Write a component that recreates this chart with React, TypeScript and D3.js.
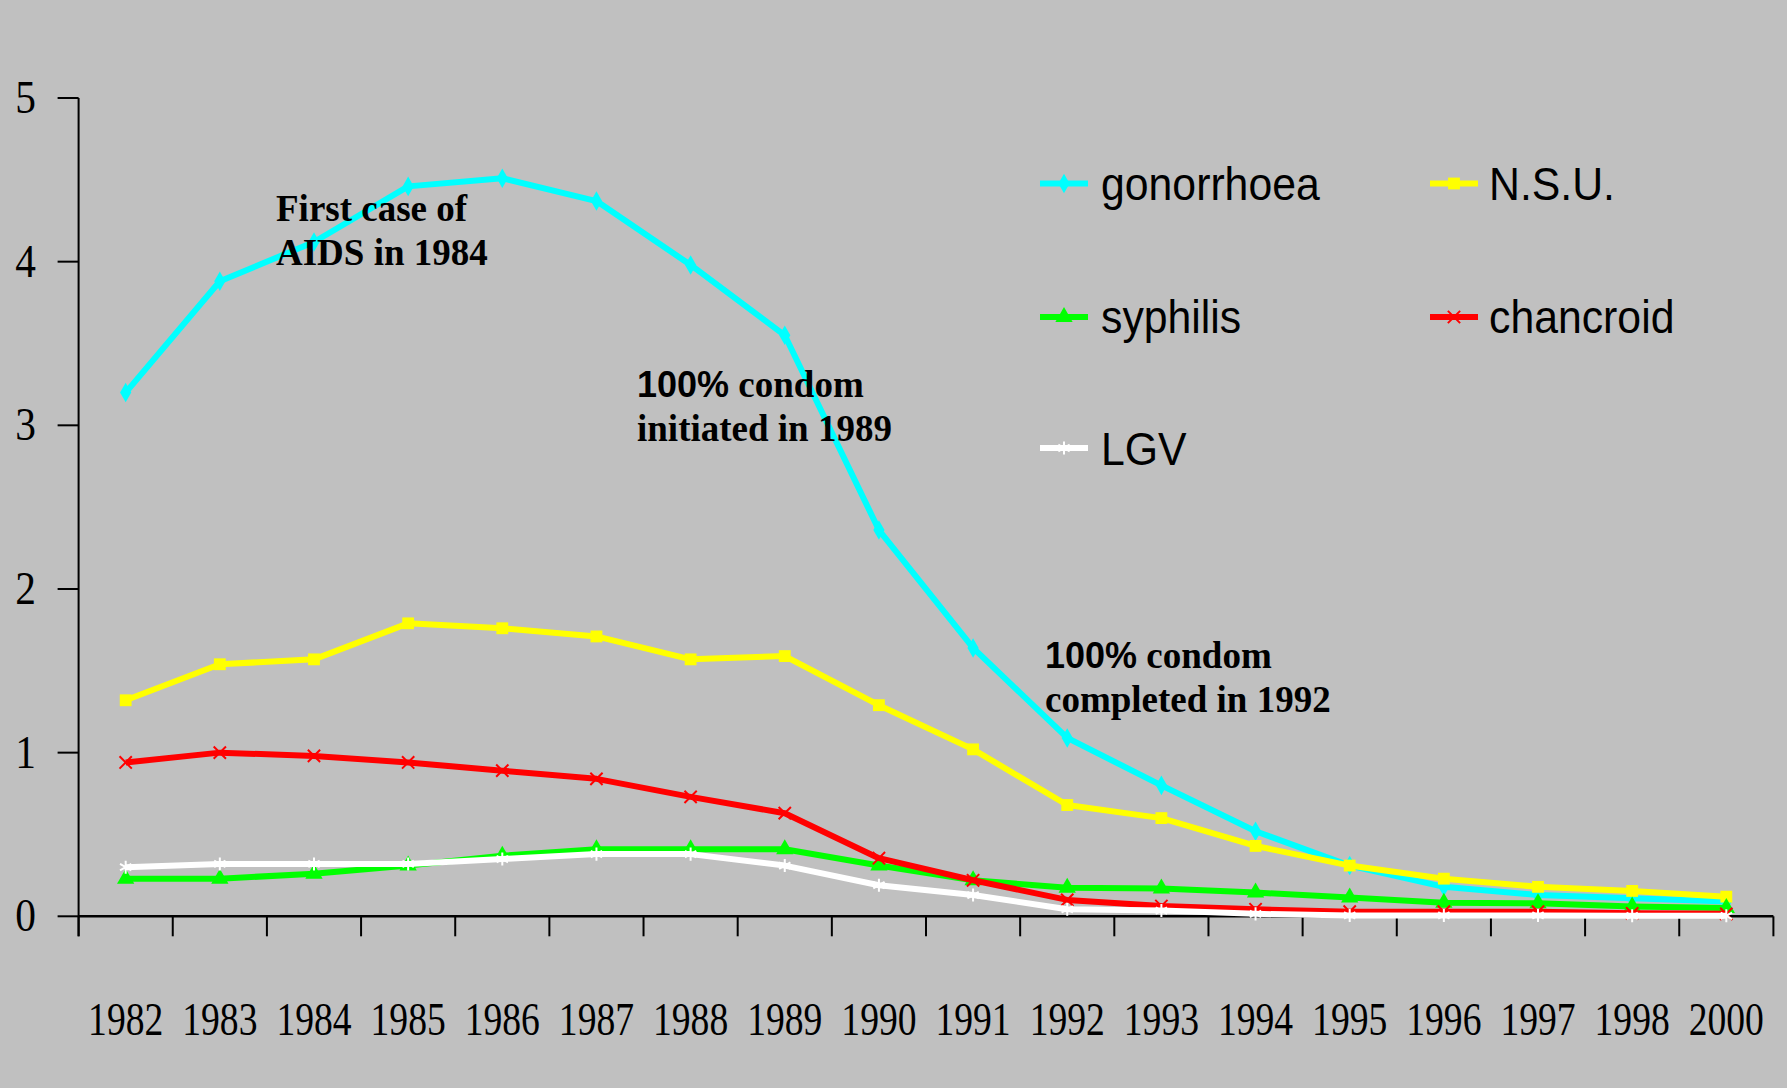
import React from "react";
import * as d3 from "d3";

const years = ["1982","1983","1984","1985","1986","1987","1988","1989","1990","1991","1992","1993","1994","1995","1996","1997","1998","2000"];
const gonorrhoea = [3.20,3.88,4.12,4.46,4.51,4.37,3.98,3.55,2.36,1.64,1.09,0.80,0.52,0.31,0.18,0.13,0.11,0.09];
const nsu = [1.32,1.54,1.57,1.79,1.76,1.71,1.57,1.59,1.29,1.02,0.68,0.60,0.43,0.31,0.23,0.18,0.155,0.12];
const syphilis = [0.23,0.23,0.26,0.31,0.37,0.41,0.41,0.41,0.31,0.22,0.175,0.17,0.145,0.115,0.083,0.079,0.06,0.05];
const chancroid = [0.94,1.00,0.98,0.94,0.89,0.84,0.73,0.63,0.355,0.22,0.10,0.063,0.043,0.028,0.028,0.028,0.018,0.015];
const lgv = [0.30,0.32,0.32,0.32,0.35,0.38,0.38,0.31,0.19,0.13,0.043,0.035,0.015,0.005,0.005,0.005,0.003,0.003];
const yTicks = [0,1,2,3,4,5];

const seriesNames = ["gonorrhoea","N.S.U.","syphilis","chancroid","LGV"];
const seriesColors = ["#00FFFF","#FFFF00","#00FF00","#FF0000","#FFFFFF"];
const seriesValues = [gonorrhoea, nsu, syphilis, chancroid, lgv];
const seriesSymbols = [d3.symbolDiamond, d3.symbolSquare, d3.symbolTriangle, d3.symbolX, d3.symbolAsterisk];
const symbolSizes = [110, 140, 130, 100, 120];
const symbolFilled = [true, true, true, false, false];

const W = 1787, H = 1088;
const left = 78.6, right = 1773.4, top = 98, bottom = 916.3;

export default function App() {
  const x = d3.scaleBand<string>().domain(years).range([left, right]).padding(0);
  const y = d3.scaleLinear().domain([0, 5]).range([bottom, top]);
  const cx = (yr: string) => (x(yr) as number) + x.bandwidth() / 2;
  const line = d3.line<number>().x((_, i) => cx(years[i])).y((v) => y(v));
  const tickXs = years.map((yr) => x(yr) as number).concat([right]);

  const legendPos = [
    { lx: 1040, ly: 183.5, tx: 1101, ty: 200 },
    { lx: 1430, ly: 183.5, tx: 1489, ty: 200 },
    { lx: 1040, ly: 317, tx: 1101, ty: 333 },
    { lx: 1430, ly: 317, tx: 1489, ty: 333 },
    { lx: 1040, ly: 448, tx: 1101, ty: 465 },
  ];

  const sym = (i: number) => d3.symbol().type(seriesSymbols[i]).size(symbolSizes[i])() as string;

  const serifBold = { fontFamily: "'Liberation Serif', 'Times New Roman', serif", fontWeight: 700, fontSize: 37 } as const;
  const sansBold = { fontFamily: "'Liberation Sans', Arial, sans-serif", fontWeight: 700 } as const;

  return (
    <div style={{ position: "absolute", left: 0, top: 0, width: W, height: H }}>
      <svg width={W} height={H} style={{ display: "block" }}>
        <rect x={0} y={0} width={W} height={H} fill="#C0C0C0" />
        {/* axes */}
        <line x1={left} x2={left} y1={top} y2={bottom + 20} stroke="#000" strokeWidth={2} />
        <line x1={left} x2={right} y1={bottom} y2={bottom} stroke="#000" strokeWidth={2.5} />
        {yTicks.map((t) => (
          <g key={t}>
            <line x1={left - 21} x2={left} y1={y(t)} y2={y(t)} stroke="#000" strokeWidth={2} />
            <text
              transform={`translate(36,${y(t) + 15}) scale(0.9,1)`}
              textAnchor="end"
              fontFamily="'Liberation Serif', 'Times New Roman', serif"
              fontSize={46}
              fill="#000"
            >
              {t}
            </text>
          </g>
        ))}
        {tickXs.map((tx, i) => (
          <line key={i} x1={tx} x2={tx} y1={bottom} y2={bottom + 20} stroke="#000" strokeWidth={2} />
        ))}
        {years.map((yr) => (
          <text
            key={yr}
            transform={`translate(${cx(yr)},1035) scale(0.8,1)`}
            textAnchor="middle"
            fontFamily="'Liberation Serif', 'Times New Roman', serif"
            fontSize={47}
            fill="#000"
          >
            {yr}
          </text>
        ))}
        {/* series */}
        {seriesValues.map((vals, si) => (
          <g key={si}>
            <path d={line(vals) as string} fill="none" stroke={seriesColors[si]} strokeWidth={6} strokeLinejoin="round" />
            {vals.map((v, i) => (
              <path
                key={i}
                d={sym(si)}
                transform={`translate(${cx(years[i])},${y(v)})`}
                fill={symbolFilled[si] ? seriesColors[si] : "none"}
                stroke={seriesColors[si]}
                strokeWidth={symbolFilled[si] ? 0 : 2}
              />
            ))}
          </g>
        ))}
        {/* legend */}
        {seriesNames.map((name, si) => {
          const p = legendPos[si];
          return (
            <g key={name}>
              <line x1={p.lx} x2={p.lx + 48} y1={p.ly} y2={p.ly} stroke={seriesColors[si]} strokeWidth={6} />
              <path
                d={sym(si)}
                transform={`translate(${p.lx + 24},${p.ly})`}
                fill={symbolFilled[si] ? seriesColors[si] : "none"}
                stroke={seriesColors[si]}
                strokeWidth={symbolFilled[si] ? 0 : 2}
              />
              <text
                transform={`translate(${p.tx},${p.ty}) scale(0.93,1)`}
                fontFamily="'Liberation Sans', Arial, sans-serif"
                fontSize={46}
                fill="#000"
              >
                {name}
              </text>
            </g>
          );
        })}
        {/* annotations */}
        <text x={276} y={221} style={serifBold} fill="#000">First case of</text>
        <text x={276} y={265} style={serifBold} fill="#000">AIDS in 1984</text>
        <text x={637} y={397} style={serifBold} fill="#000">
          <tspan style={sansBold} fontSize={36}>100%</tspan> condom
        </text>
        <text x={637} y={441} style={serifBold} fill="#000">initiated in 1989</text>
        <text x={1045} y={668} style={serifBold} fill="#000">
          <tspan style={sansBold} fontSize={36}>100%</tspan> condom
        </text>
        <text x={1045} y={712} style={serifBold} fill="#000">completed in 1992</text>
      </svg>
    </div>
  );
}
